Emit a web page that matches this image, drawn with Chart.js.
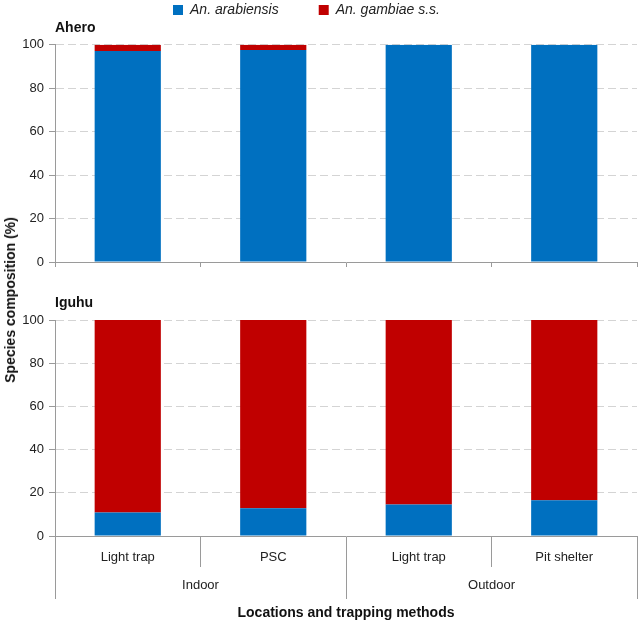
<!DOCTYPE html>
<html>
<head>
<meta charset="utf-8">
<script src="https://cdn.jsdelivr.net/npm/chart.js@4"></script>
<style>
body { margin: 0; background: #fff; }
#wrap { position: relative; width: 638px; height: 623px; font-family: Arial, 'Liberation Sans', sans-serif; }
#topChart { position: absolute; left: 0; top: 0; }
#botChart { position: absolute; left: 0; top: 280px; }
#ytitle {
    position: absolute; left: 10px; top: 300px;
    transform: translate(-50%, -50%) rotate(-90deg);
    font-weight: bold; font-size: 14px; white-space: nowrap; color: #111;
}
</style>
</head>
<body>
<div id="wrap">
    <canvas id="topChart" width="638" height="275"></canvas>
    <canvas id="botChart" width="638" height="343"></canvas>
    <div id="ytitle">Species composition (%)</div>
</div>
<script>
const methods = ['Light trap', 'PSC', 'Light trap', 'Pit shelter'];
const locations = ['Indoor', 'Outdoor'];
const seriesNames = ['An. arabiensis', 'An. gambiae s.s.'];

const aheroArabiensis = [97.2, 97.6, 100, 100];
const aheroGambiae = [2.8, 2.4, 0, 0];
const iguhuArabiensis = [10.9, 12.9, 14.6, 16.5];
const iguhuGambiae = [89.1, 87.1, 85.4, 83.5];

const yMin = 0, yMax = 100, yStep = 20;

const BLUE = '#0070C0';
const RED = '#C00000';
const AXIS = '#9a9a9a';
const GRID = '#d4d4d4';

Chart.defaults.font.family = "Arial, 'Liberation Sans', sans-serif";
Chart.defaults.color = '#222';

const makeDatasets = (blue, red) => [
    { label: seriesNames[0], data: blue, backgroundColor: BLUE, barPercentage: 0.455, categoryPercentage: 1 },
    { label: seriesNames[1], data: red, backgroundColor: RED, barPercentage: 0.455, categoryPercentage: 1 }
];

const yScale = {
    stacked: true,
    min: yMin, max: yMax,
    ticks: { stepSize: yStep, padding: 5, font: { size: 13 } },
    grid: {
        color: c => (c.tick && c.tick.value === 0) ? 'rgba(0,0,0,0)' : GRID,
        tickColor: AXIS,
        tickLength: 6
    },
    border: { color: AXIS, dash: [8, 4] },
    afterFit: s => { s.width = 55; }
};

// legend spacing is wider than Chart.js gives by default, so move it into place
const legendNudge = {
    id: 'legendNudge',
    afterLayout(chart) {
        if (!chart.legend || !chart.options.plugins.legend.display) return;
        chart.legend.left -= 12;
        chart.legend.right -= 12;
        chart.legend.top -= 37;
        chart.legend.bottom += 10;
    }
};

new Chart(document.getElementById('topChart'), {
    type: 'bar',
    data: { labels: methods, datasets: makeDatasets(aheroArabiensis, aheroGambiae) },
    plugins: [legendNudge],
    options: {
        responsive: false,
        animation: false,
        layout: { padding: { left: 0, right: 1, top: 0, bottom: 0 } },
        plugins: {
            legend: {
                position: 'top',
                maxHeight: 14,
                labels: { boxWidth: 10, boxHeight: 10, padding: 40, font: { size: 14, style: 'italic' }, color: '#222' }
            },
            title: {
                display: true, text: 'Ahero', align: 'start', fullSize: false, weight: 500,
                font: { size: 14, weight: 'bold' }, color: '#111',
                padding: { top: 6, bottom: 8 }
            },
            tooltip: { enabled: false }
        },
        scales: {
            x: {
                stacked: true,
                ticks: { display: false },
                grid: { offset: true, drawOnChartArea: false, color: AXIS, tickLength: 5 },
                border: { color: AXIS },
                afterFit: s => { s.height = 13; }
            },
            y: yScale
        }
    }
});

new Chart(document.getElementById('botChart'), {
    type: 'bar',
    data: { labels: methods, datasets: makeDatasets(iguhuArabiensis, iguhuGambiae) },
    options: {
        responsive: false,
        animation: false,
        layout: { padding: { left: 0, right: 1, top: 0, bottom: 0 } },
        plugins: {
            legend: { display: false },
            title: {
                display: true, text: 'Iguhu', align: 'start', fullSize: false,
                font: { size: 14, weight: 'bold' }, color: '#111',
                padding: { top: 14.6, bottom: 8.6 }
            },
            tooltip: { enabled: false }
        },
        scales: {
            x: {
                stacked: true,
                ticks: { padding: -17.5, font: { size: 13 }, maxRotation: 0 },
                grid: { offset: true, drawOnChartArea: false, color: AXIS, tickLength: 31 },
                border: { color: AXIS },
                afterFit: s => { s.height = 31; }
            },
            x2: {
                type: 'category',
                labels: locations,
                position: 'bottom',
                ticks: { padding: -21.5, font: { size: 13 }, maxRotation: 0 },
                grid: { offset: true, drawOnChartArea: false, color: AXIS, tickLength: 32 },
                border: { display: false },
                title: {
                    display: true, text: 'Locations and trapping methods',
                    font: { size: 14, weight: 'bold' }, color: '#111',
                    padding: { top: 0, bottom: 1.6 }
                },
                afterFit: s => { s.height = 56; }
            },
            y: yScale
        }
    }
});
</script>
</body>
</html>
